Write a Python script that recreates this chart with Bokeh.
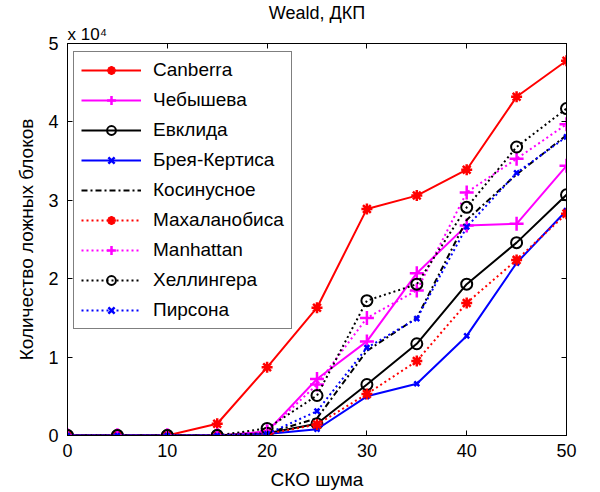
import numpy as np
from bokeh.plotting import figure
from bokeh.models import (LinearAxis, Legend, LegendItem, Title, Range1d,
                          FixedTicker)
from bokeh.embed import file_html
from bokeh.resources import INLINE

# ---- data (number of false blocks) ----
noise = [0, 5, 10, 15, 20, 25, 30, 35, 40, 45, 50]
canberra    = [0, 0, 0, 1500, 8700, 16300, 28900, 30600, 33900, 43200, 47800]
chebyshev   = [0, 0, 0, 0, 500, 7200, 12000, 20700, 26800, 27000, 34400]
euclid      = [0, 0, 0, 0, 300, 1500, 6500, 11700, 19300, 24600, 30700]
bray_curtis = [0, 0, 0, 0, 200, 800, 5000, 6600, 12700, 22000, 28700]
cosine      = [0, 0, 0, 0, 300, 2200, 10800, 15000, 27500, 33300, 38300]
mahalanobis = [0, 0, 0, 0, 200, 1400, 5300, 9500, 16900, 22400, 28300]
manhattan   = [0, 0, 0, 0, 500, 6500, 15000, 18500, 31000, 35300, 39700]
hellinger   = [0, 0, 0, 0, 900, 5100, 17200, 19300, 29100, 36800, 41700]
pearson     = [0, 0, 0, 0, 200, 3100, 11200, 14900, 26600, 33500, 38100]

series_names = ["Canberra", "Чебышева", "Евклида", "Брея-Кертиса", "Косинусное",
                "Махаланобиса", "Manhattan", "Хеллингера", "Пирсона"]
x_ticks = [0, 10, 20, 30, 40, 50]
y_ticks = [0, 1, 2, 3, 4, 5]
scale = 1e4

FONT = "Liberation Sans"
FS = "18px"

p = figure(width=600, height=492, output_backend="svg", toolbar_location=None,
           x_range=Range1d(0, 50), y_range=Range1d(0, 5),
           min_border_left=67, min_border_right=34, min_border_top=43,
           min_border_bottom=55, title="Weald, ДКП")
p.title.align = "center"
p.title.text_font = FONT
p.title.text_font_size = "18px"
p.title.text_font_style = "normal"
p.title.text_color = "black"
p.title.standoff = 0
p.xgrid.visible = False
p.ygrid.visible = False
p.outline_line_color = "black"
p.outline_line_width = 1
p.background_fill_color = "white"
p.border_fill_color = "white"

for ax in (p.xaxis[0], p.yaxis[0]):
    ax.major_tick_in = 5
    ax.major_tick_out = 0
    ax.minor_tick_line_color = None
    ax.axis_line_color = "black"
    ax.major_tick_line_color = "black"
    ax.major_label_text_font = FONT
    ax.major_label_text_font_size = FS
    ax.major_label_text_color = "black"
    ax.axis_label_text_font = FONT
    ax.axis_label_text_font_size = "19px"
    ax.axis_label_text_font_style = "normal"
    ax.axis_label_text_color = "black"

p.xaxis.ticker = FixedTicker(ticks=x_ticks)
p.yaxis.ticker = FixedTicker(ticks=y_ticks)
p.xaxis.axis_label = "СКО шума"
p.yaxis.axis_label = "Количество ложных блоков"
p.xaxis.major_label_standoff = 8
p.yaxis.major_label_standoff = 9
p.xaxis.axis_label_standoff = 9
p.yaxis.axis_label_standoff = 8

top_ax = LinearAxis(ticker=FixedTicker(ticks=x_ticks), major_tick_in=5, major_tick_out=0,
                    minor_tick_line_color=None, major_label_text_font_size="0px",
                    major_label_text_color=None, major_label_standoff=0)
right_ax = LinearAxis(ticker=FixedTicker(ticks=y_ticks), major_tick_in=5, major_tick_out=0,
                      minor_tick_line_color=None, major_label_text_font_size="0px",
                      major_label_text_color=None, major_label_standoff=0)
p.add_layout(top_ax, "above")
p.add_layout(right_ax, "right")

# axis multiplier shown above the y axis
mult = Title(text="x 10\u2074", align="left", offset=0, standoff=0,
             text_font=FONT, text_font_size="17px", text_font_style="normal",
             text_color="black")
p.add_layout(mult, "above")

styles = [
    # color, dash, marker, marker size
    ("#FF0000", "solid", "asterisk", 11),
    ("#FF00FF", "solid", "cross", 14),
    ("#000000", "solid", "circle", 11),
    ("#0000FF", "solid", "x", 7),
    ("#000000", "6 3 2 3", None, 0),
    ("#FF0000", "2 3", "asterisk", 11),
    ("#FF00FF", "2 3", "cross", 14),
    ("#000000", "2 3", "circle", 11),
    ("#0000FF", "2 3", "x", 7),
]
data_list = [canberra, chebyshev, euclid, bray_curtis, cosine, mahalanobis,
             manhattan, hellinger, pearson]

items = []
for name, vals, (col, dash, mk, ms) in zip(series_names, data_list, styles):
    y = np.array(vals) / scale
    r_line = p.line(noise, y, line_color=col, line_width=2, line_dash=dash)
    rs = [r_line]
    if mk is not None:
        if mk == "circle":
            r_m = p.scatter(noise, y, marker="circle", size=ms, fill_color=None,
                            line_color=col, line_width=2)
        else:
            r_m = p.scatter(noise, y, marker=mk, size=ms, line_color=col,
                            fill_color=col, line_width=2.5)
        rs.append(r_m)
    items.append(LegendItem(label=name, renderers=rs))

legend = Legend(items=items, location=(6, 106))
legend.label_text_font = FONT
legend.label_text_font_size = "19px"
legend.label_text_color = "black"
legend.border_line_color = "black"
legend.border_line_width = 1
legend.background_fill_color = "white"
legend.background_fill_alpha = 1
legend.glyph_width = 60
legend.glyph_height = 22
legend.label_height = 22
legend.spacing = 8
legend.padding = 7
legend.margin = 0
legend.label_standoff = 12
p.add_layout(legend, "center")

open("out.html", "w").write(file_html(p, INLINE))
